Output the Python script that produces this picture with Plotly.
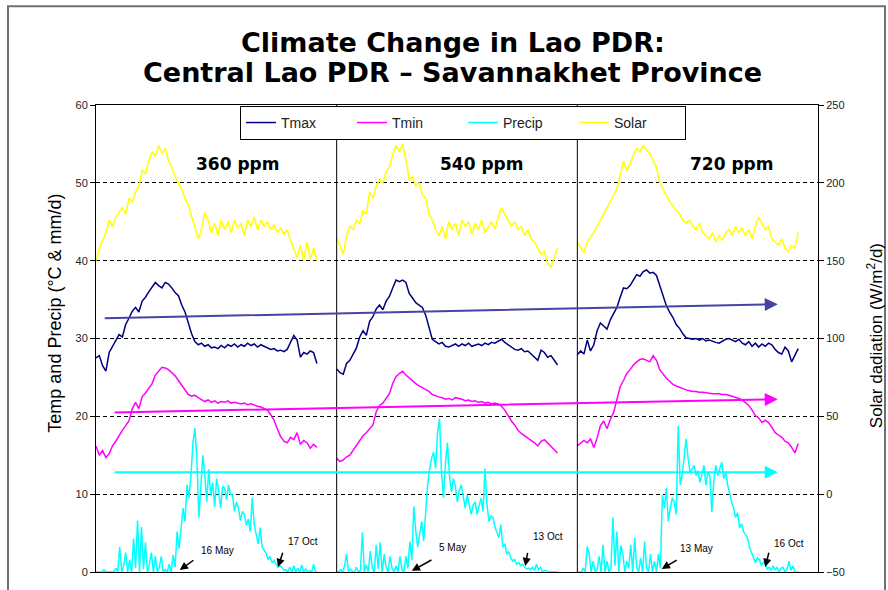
import plotly.graph_objects as go

YEAR_DAYS = 365
T_STEP = 5   # days between samples for Tmax / Tmin / Solar
P_STEP = 3   # days between samples for Precip

scenarios = ["360 ppm", "540 ppm", "720 ppm"]
title_lines = ["Climate Change in Lao PDR:", "Central Lao PDR – Savannakhet Province"]

# ---------------- Tmax (deg C) ----------------
tmax_360 = [27.5, 27.8, 26.5, 25.8, 28.2, 29.0, 29.9, 30.5, 30.2, 31.8,
            32.6, 33.5, 34.0, 33.4, 34.8, 35.3, 36.0, 36.6, 37.2, 36.8,
            36.5, 37.2, 37.0, 36.5, 35.9, 35.5, 34.3, 33.4, 32.0, 30.6,
            29.6, 29.2, 29.4, 29.0, 29.2, 28.8, 28.9, 28.7, 29.1, 28.8,
            29.2, 29.0, 29.3, 28.9, 29.2, 29.0, 29.4, 29.1, 29.3, 28.9,
            29.2, 29.0, 28.8, 28.6, 28.7, 28.4, 28.5, 28.3, 28.6, 29.5,
            30.4, 29.8, 27.6, 28.2, 28.0, 28.4, 28.2, 26.8]
tmax_540 = [26.1, 25.6, 25.4, 26.8, 27.2, 28.0, 28.8, 30.2, 31.0, 30.4,
            32.2, 32.8, 33.8, 34.3, 33.7, 34.8, 35.4, 36.5, 37.5, 37.3,
            37.5, 37.2, 35.8, 35.2, 34.6, 34.3, 34.0, 33.0, 31.5, 29.9,
            29.6, 29.3, 29.5, 29.0, 28.9, 29.1, 29.3, 29.0, 29.3, 29.1,
            29.4, 29.0, 29.2, 29.3, 29.1, 29.4, 29.2, 29.5, 29.4, 29.7,
            29.9, 29.5, 29.2, 29.0, 28.6, 28.5, 28.7, 28.3, 28.4, 28.0,
            27.6, 27.2, 28.5, 28.2, 27.6, 27.8, 27.2, 26.6]
tmax_720 = [27.9, 28.4, 28.0, 29.8, 28.4, 29.2, 31.0, 32.0, 31.6, 31.2,
            32.4, 33.2, 34.0, 35.3, 36.5, 36.4, 36.8, 37.5, 38.2, 38.0,
            38.6, 38.8, 38.4, 38.5, 38.1, 36.8, 35.4, 34.2, 33.4, 32.7,
            31.8, 31.3, 30.6, 30.1, 30.0, 29.9, 30.0, 29.8, 30.0, 29.7,
            29.8, 29.6, 29.5, 29.4, 29.7, 29.9, 30.0, 29.8, 29.6, 29.9,
            29.4, 29.2, 29.6, 29.0, 29.4, 28.9, 29.3, 29.0, 29.4, 29.2,
            28.6, 28.2, 28.0, 28.9, 28.4, 27.0, 27.8, 28.7]

# ---------------- Tmin (deg C) ----------------
tmin_360 = [16.2, 15.0, 15.6, 14.7, 15.2, 16.2, 16.8, 17.6, 18.2, 18.8,
            19.4, 21.0, 21.8, 21.0, 22.5, 23.0, 23.6, 24.2, 25.3, 25.8,
            26.3, 26.2, 26.0, 25.6, 25.2, 24.6, 24.0, 23.3, 22.8, 22.6,
            22.7, 22.4, 22.2, 21.9, 22.1, 21.8, 22.0, 21.7, 21.9, 21.8,
            22.0, 21.7, 21.8, 21.7, 21.6, 21.7, 21.5, 21.6, 21.4, 21.3,
            21.2, 21.0, 20.8, 20.2, 19.5, 18.4, 17.4, 16.8, 16.6, 17.3,
            17.0, 17.9, 16.4, 16.9, 16.6, 15.9, 16.4, 16.0]
tmin_540 = [14.6, 14.2, 14.4, 14.8, 15.0, 15.6, 16.2, 16.8, 17.5, 17.9,
            18.4, 18.9, 20.6, 21.4, 21.7, 22.3, 22.9, 24.2, 25.1, 25.5,
            25.8, 25.3, 24.9, 24.5, 24.2, 23.9, 23.7, 23.5, 23.2, 22.8,
            22.6, 22.5, 22.4, 22.2, 22.3, 22.1, 22.4, 22.3, 22.2, 22.0,
            22.1, 21.9, 22.0, 21.8, 21.9, 21.7, 21.8, 21.6, 21.7, 21.6,
            21.3, 20.8, 20.0, 19.4, 18.9, 18.2, 17.8, 17.5, 17.2, 17.0,
            16.6, 16.2, 16.8, 17.0, 16.6, 16.2, 15.8, 15.3]
tmin_720 = [16.2, 16.5, 16.9, 16.6, 17.1, 16.0, 17.2, 18.8, 19.4, 18.4,
            19.6, 20.5, 22.2, 23.8, 24.6, 25.5, 26.0, 26.6, 27.0, 27.3,
            27.4, 27.2, 27.0, 27.8, 27.2, 26.0, 25.4, 24.9, 24.5, 24.1,
            23.9, 23.7, 23.5, 23.4, 23.3, 23.2, 23.2, 23.1, 23.1, 23.0,
            23.0, 22.9, 22.9, 22.9, 22.8, 22.8, 22.7, 22.6, 22.5, 22.3,
            22.1, 21.8, 21.4, 20.8, 20.1, 19.8, 19.2, 19.5, 19.2, 18.6,
            17.9, 17.6, 17.3, 16.8, 16.6, 16.0, 15.3, 16.5]

# ---------------- Precip (mm/d) ----------------
precip_360 = [0, 0, 0, 0, 0.3, 0, 0, 0, 0, 0, 0.5, 0,
              3.2, 0, 0.8, 2.5, 0, 1.6, 0, 4.3, 0.5, 6.6, 0, 5.8, 0.4, 3.8, 0, 1.0,
              2.5, 0, 2.0, 0, 0.6, 2.0, 0, 0.3, 0, 1.0, 0, 2.2, 0.6, 5.2, 3.0, 6.1,
              8.2, 6.5, 11.2, 9.5, 12.4, 16.6, 18.5, 14.6, 7.0, 11.0, 15.0, 12.4,
              9.0, 13.2, 9.8, 11.5, 8.4, 12.0, 10.5, 8.2, 11.0, 10.8, 9.3, 11.2,
              10.0, 9.9, 7.8, 9.0, 8.2, 6.6, 7.8, 7.4, 6.0, 6.8, 5.2, 9.5, 6.1,
              4.8, 3.6, 5.7, 3.2, 2.8, 2.4, 1.6, 2.0, 1.2, 1.5, 1.0, 0.6, 0.8, 0.6,
              0.2, 0.3, 0, 0.6, 0, 0.8, 0, 0.5, 0, 0.9, 0, 0.4, 0, 0.2, 0, 1.0, 0, 0]
precip_540 = [0, 0, 0.3, 0, 0.8, 2.3, 0, 0.4, 0, 0, 0.6, 0, 0.2, 5.1, 0, 0.9,
              0, 2.7, 0.5, 0, 3.5, 0.4, 3.8, 0, 2.3, 0.6, 0, 2.0, 0.5, 0, 0.8, 0,
              2.0, 0.3, 0, 2.0, 0.5, 3.9, 1.5, 8.4, 5.2, 3.2, 5.0, 6.5, 4.0, 7.7,
              11.2, 13.3, 14.6, 15.4, 13.3, 17.9, 19.7, 12.8, 9.5, 14.0, 16.6,
              12.4, 10.3, 12.0, 11.0, 9.0, 10.5, 11.2, 9.6, 8.2, 9.9, 8.8, 7.4,
              8.6, 9.0, 7.4, 8.3, 9.5, 7.8, 13.3, 8.6, 6.5, 7.2, 7.0, 5.8, 5.2,
              4.4, 6.1, 3.2, 3.6, 2.3, 2.6, 1.8, 1.4, 1.6, 1.0, 1.2, 0.8, 1.0, 0.6,
              0.4, 0.5, 0.3, 0.6, 0.2, 1.0, 0.3, 0.6, 0, 0.2, 0.2, 0, 0, 0, 0, 0, 0]
precip_720 = [0, 0, 0, 0.5, 0, 3.3, 2.3, 0, 1.4, 0, 0.3, 2.0, 0, 3.5, 0, 1.4,
              0, 0.5, 7.0, 0.8, 5.2, 0, 3.4, 2.3, 0, 1.4, 0.5, 3.5, 0, 4.4, 0.6,
              0, 1.8, 0, 3.9, 0.5, 0, 2.3, 0, 1.4, 0, 2.3, 0.5, 9.9, 8.2, 10.8,
              6.5, 8.2, 9.5, 9.0, 7.4, 18.8, 11.2, 12.4, 15.0, 17.1, 14.6, 12.8,
              13.2, 13.7, 12.4, 13.0, 11.5, 12.6, 13.7, 11.2, 12.8, 12.4, 7.7,
              11.8, 13.7, 12.4, 13.2, 14.1, 12.0, 12.8, 11.2, 9.9, 9.0, 8.2, 7.0,
              7.6, 5.7, 6.2, 5.2, 4.8, 4.4, 3.2, 2.6, 1.9, 1.2, 1.8, 1.6, 0.9, 1.2,
              1.0, 0.4, 0.6, 0.2, 0.8, 0.3, 0.6, 0, 0.5, 0.6, 0, 0.4, 1.4, 0.2,
              0.8, 0, 0, 0]

# ---------------- Solar (W/m2/d) ----------------
solar_360 = [150, 158, 163, 168, 176, 172, 178, 181, 184, 180,
             190, 188, 194, 198, 208, 206, 214, 220, 217, 224,
             219, 222, 214, 210, 204, 200, 196, 190, 186, 178,
             172, 164, 170, 181, 176, 168, 174, 166, 176, 170,
             175, 168, 176, 171, 174, 166, 176, 172, 178, 170,
             176, 172, 175, 170, 173, 168, 171, 167, 170, 163,
             158, 152, 160, 150, 162, 151, 158, 150]
solar_540 = [165, 160, 154, 166, 172, 170, 176, 174, 182, 180,
             194, 190, 198, 202, 200, 207, 210, 218, 224, 220,
             225, 215, 202, 204, 198, 200, 192, 190, 180, 176,
             170, 166, 172, 164, 175, 170, 174, 166, 176, 172,
             175, 167, 174, 170, 176, 168, 172, 175, 170, 178,
             184, 180, 176, 172, 175, 170, 172, 166, 170, 164,
             162, 158, 154, 156, 148, 146, 152, 158]
solar_720 = [162, 158, 155, 162, 165, 168, 172, 176, 180, 184,
             188, 192, 196, 205, 214, 208, 212, 218, 222, 220,
             224, 221, 219, 214, 210, 200, 196, 191, 188, 185,
             182, 180, 176, 174, 176, 172, 170, 174, 168, 166,
             164, 168, 162, 166, 163, 168, 170, 166, 172, 168,
             171, 166, 170, 164, 172, 178, 174, 170, 172, 164,
             162, 160, 164, 158, 156, 160, 158, 168]

# ---------------- trends (start day, end day, start value, end value) -------
trend_names = ["Tmax", "Tmin", "Precip"]
trend_start_day = [11, 26, 26]
trend_end_day = [1034, 1034, 1034]
trend_start_val = [32.6, 20.5, 12.8]
trend_end_val = [34.4, 22.2, 12.8]
trend_colors = ["#4545A5", "#FF00FF", "#00FFFF"]

# ---------------- monsoon onset / end labels ----------------
date_labels = ["16 May", "17 Oct", "5 May", "13 Oct", "13 May", "16 Oct"]
date_text_day = [185, 314, 540, 685, 910, 1051]
date_text_val = [2.7, 3.9, 3.2, 4.6, 3.0, 3.7]
date_tail_day = [150, 284, 511, 655, 883, 1021]
date_tail_val = [1.65, 2.66, 1.65, 2.66, 1.65, 2.66]
date_tip_day = [127, 276, 479, 651, 858, 1015]
date_tip_val = [0.25, 0.63, 0.15, 0.76, 0.38, 0.63]

scenario_label_day = [215, 585, 964]
scenario_label_val = [52.4, 52.4, 52.4]


def join_panels(panels, step):
    xs, ys = [], []
    for p, vals in enumerate(panels):
        xs += [p * YEAR_DAYS + i * step for i in range(len(vals))]
        ys += list(vals)
        xs.append(None)
        ys.append(None)
    return xs, ys


series = [
    ("Tmax", [tmax_360, tmax_540, tmax_720], T_STEP, "#000080", "y"),
    ("Tmin", [tmin_360, tmin_540, tmin_720], T_STEP, "#FF00FF", "y"),
    ("Precip", [precip_360, precip_540, precip_720], P_STEP, "#00FFFF", "y"),
    ("Solar", [solar_360, solar_540, solar_720], T_STEP, "#FFFF00", "y2"),
]

fig = go.Figure()
for name, panels, step, color, yax in series:
    xs, ys = join_panels(panels, step)
    fig.add_trace(go.Scatter(x=xs, y=ys, name=name, mode="lines",
                             line=dict(color=color, width=1.5), yaxis=yax,
                             connectgaps=False))

annotations = []
# trend arrows
for i in range(len(trend_names)):
    annotations.append(dict(
        x=trend_end_day[i], y=trend_end_val[i], ax=trend_start_day[i], ay=trend_start_val[i],
        xref="x", yref="y", axref="x", ayref="y", text="", showarrow=True,
        arrowhead=2, arrowsize=1.3, arrowwidth=2, arrowcolor=trend_colors[i], standoff=0))

# date arrows and labels
for i, lab in enumerate(date_labels):
    annotations.append(dict(
        x=date_tip_day[i], y=date_tip_val[i], ax=date_tail_day[i], ay=date_tail_val[i],
        xref="x", yref="y", axref="x", ayref="y", text="", showarrow=True,
        arrowhead=2, arrowsize=1.1, arrowwidth=1.5, arrowcolor="black", standoff=0))
    annotations.append(dict(
        x=date_text_day[i], y=date_text_val[i], xref="x", yref="y", text=lab,
        showarrow=False, font=dict(family="Liberation Sans, Arial", size=10, color="black"),
        xanchor="center", yanchor="middle"))

for i, lab in enumerate(scenarios):
    annotations.append(dict(
        x=scenario_label_day[i], y=scenario_label_val[i], xref="x", yref="y", text="<b>%s</b>" % lab,
        showarrow=False, font=dict(family="DejaVu Sans", size=17, color="black"),
        xanchor="center", yanchor="middle"))

# two-line title (tight line spacing like the original slide)
title_y = [1.133, 1.069]
for txt, ty in zip(title_lines, title_y):
    annotations.append(dict(x=0.494, y=ty, xref="paper", yref="paper", text="<b>%s</b>" % txt,
                            showarrow=False, xanchor="center", yanchor="middle",
                            font=dict(family="DejaVu Sans", size=27, color="black")))

# axis titles
annotations.append(dict(x=-0.057, y=0.555, xref="paper", yref="paper",
                        text="Temp and Precip (°C & mm/d)", textangle=-90, showarrow=False,
                        font=dict(family="Liberation Sans, Arial", size=18, color="black"),
                        xanchor="center", yanchor="middle"))
annotations.append(dict(x=1.079, y=0.505, xref="paper", yref="paper",
                        text="Solar dadiation (W/m<sup>2</sup>/d)", textangle=-90, showarrow=False,
                        font=dict(family="Liberation Sans, Arial", size=17, color="black"),
                        xanchor="center", yanchor="middle"))

shapes = []
for p in range(1, len(scenarios)):
    shapes.append(dict(type="line", xref="x", yref="paper", x0=p * YEAR_DAYS, x1=p * YEAR_DAYS,
                       y0=0, y1=1, line=dict(color="black", width=1)))
# outer slide frame
shapes.append(dict(type="rect", xref="paper", yref="paper", x0=-0.1219, x1=1.0928,
                   y0=-0.06, y1=1.2114, line=dict(color="#707070", width=2), layer="below"))

tickfont = dict(family="Liberation Sans, Arial", size=11, color="#222222")

fig.update_layout(
    width=888, height=590,
    margin=dict(l=96, r=70, t=105, b=12),
    paper_bgcolor="white", plot_bgcolor="white",
    xaxis=dict(range=[0, 3 * YEAR_DAYS], showline=True, linecolor="black", linewidth=1,
               mirror=True, showticklabels=False, showgrid=False, zeroline=False, ticks=""),
    yaxis=dict(range=[0, 60], dtick=10, tick0=0, showgrid=True, gridcolor="black",
               griddash="4px,3px", gridwidth=1, showline=True, linecolor="black", linewidth=1,
               ticks="outside", ticklen=5, tickcolor="black", tickfont=tickfont, zeroline=False),
    yaxis2=dict(range=[-50, 250], dtick=50, tick0=0, overlaying="y", side="right",
                showgrid=False, showline=True, linecolor="black", linewidth=1,
                ticks="outside", ticklen=5, tickcolor="black", tickfont=tickfont, zeroline=False),
    legend=dict(orientation="h", x=0.1994, y=0.998, xanchor="left", yanchor="top",
                bgcolor="white", bordercolor="black", borderwidth=1,
                font=dict(family="Liberation Sans, Arial", size=14, color="#222222"),
                entrywidth=66, entrywidthmode="pixels", itemwidth=30),
    annotations=annotations,
    shapes=shapes,
)

fig.write_html("out.html")
